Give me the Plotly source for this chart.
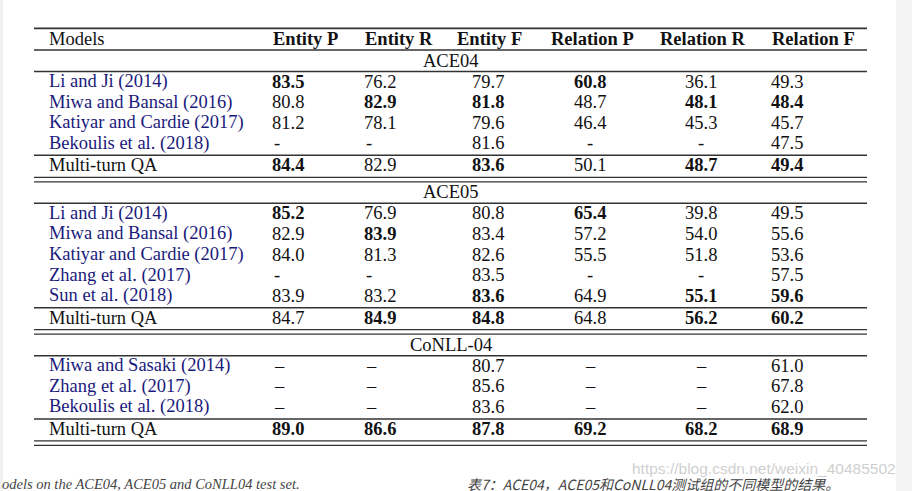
import plotly.graph_objects as go

# column headers
columns = ["Models", "Entity P", "Entity R", "Entity F", "Relation P", "Relation R", "Relation F"]

# ACE04
ace04_models = ["Li and Ji (2014)", "Miwa and Bansal (2016)", "Katiyar and Cardie (2017)",
                "Bekoulis et al. (2018)", "Multi-turn QA"]
ace04_entity_p = [83.5, 80.8, 81.2, None, 84.4]
ace04_entity_r = [76.2, 82.9, 78.1, None, 82.9]
ace04_entity_f = [79.7, 81.8, 79.6, 81.6, 83.6]
ace04_relation_p = [60.8, 48.7, 46.4, None, 50.1]
ace04_relation_r = [36.1, 48.1, 45.3, None, 48.7]
ace04_relation_f = [49.3, 48.4, 45.7, 47.5, 49.4]
ace04_bold = [(0, 1), (4, 1), (1, 2), (1, 3), (4, 3), (0, 4), (1, 5), (4, 5), (1, 6), (4, 6)]

# ACE05
ace05_models = ["Li and Ji (2014)", "Miwa and Bansal (2016)", "Katiyar and Cardie (2017)",
                "Zhang et al. (2017)", "Sun et al. (2018)", "Multi-turn QA"]
ace05_entity_p = [85.2, 82.9, 84.0, None, 83.9, 84.7]
ace05_entity_r = [76.9, 83.9, 81.3, None, 83.2, 84.9]
ace05_entity_f = [80.8, 83.4, 82.6, 83.5, 83.6, 84.8]
ace05_relation_p = [65.4, 57.2, 55.5, None, 64.9, 64.8]
ace05_relation_r = [39.8, 54.0, 51.8, None, 55.1, 56.2]
ace05_relation_f = [49.5, 55.6, 53.6, 57.5, 59.6, 60.2]
ace05_bold = [(0, 1), (1, 2), (5, 2), (4, 3), (5, 3), (0, 4), (4, 5), (5, 5), (4, 6), (5, 6)]

# CoNLL-04
conll_models = ["Miwa and Sasaki (2014)", "Zhang et al. (2017)", "Bekoulis et al. (2018)", "Multi-turn QA"]
conll_entity_p = [None, None, None, 89.0]
conll_entity_r = [None, None, None, 86.6]
conll_entity_f = [80.7, 85.6, 83.6, 87.8]
conll_relation_p = [None, None, None, 69.2]
conll_relation_r = [None, None, None, 68.2]
conll_relation_f = [61.0, 67.8, 62.0, 68.9]
conll_bold = [(3, 1), (3, 2), (3, 3), (3, 4), (3, 5), (3, 6)]

sections = [
    ("ACE04", "-", ace04_models, [ace04_entity_p, ace04_entity_r, ace04_entity_f,
                                  ace04_relation_p, ace04_relation_r, ace04_relation_f], ace04_bold),
    ("ACE05", "-", ace05_models, [ace05_entity_p, ace05_entity_r, ace05_entity_f,
                                  ace05_relation_p, ace05_relation_r, ace05_relation_f], ace05_bold),
    ("CoNLL-04", "\u2013", conll_models, [conll_entity_p, conll_entity_r, conll_entity_f,
                                          conll_relation_p, conll_relation_r, conll_relation_f], conll_bold),
]

caption_en = "odels on the ACE04, ACE05 and CoNLL04 test set."
caption_zh = "表7：ACE04，ACE05和CoNLL04测试组的不同模型的结果。"
watermark = "https://blog.csdn.net/weixin_40485502"

# layout (pixel space)
W, H = 912, 491
X0, X1 = 34, 867
col_x = [47, 270, 362, 506, 590, 701, 769]
col_anchor = ["left", "left", "left", "right", "center", "center", "left"]
header_x = [47, 271, 363, 455, 549, 658, 770]
PITCH = 20.6
SERIF = "Liberation Serif"
FS = 18.5
BLUE = "#1a1a7c"
INK = "#111111"
LINE = "#333333"

ann = []
shapes = []


def hline(y, w=1.5):
    shapes.append(dict(type="line", xref="x", yref="y", x0=X0, x1=X1, y0=y, y1=y,
                       line=dict(color=LINE, width=w)))


def txt(x, y, s, anchor="left", color=INK, size=FS, family=SERIF):
    ann.append(dict(x=x, y=y, xref="x", yref="y", text=s, showarrow=False,
                    xanchor=anchor, yanchor="middle",
                    font=dict(family=family, size=size, color=color)))


# header
hline(28.3, 1.8)
header_y = 38.5
for i, c in enumerate(columns):
    s = c if i == 0 else f"<b>{c}</b>"
    txt(header_x[i], header_y, s)
prev = 50
hline(prev)

for name, dash, models, cols, bold in sections:
    label_y = prev + 10.5
    txt(450.5, label_y, name, anchor="center")
    hline(label_y + 11)
    y0 = label_y + 21
    n = len(models)
    ys = [y0 + PITCH * r for r in range(n - 1)]
    sep = ys[-1] + 12
    hline(sep)
    ys.append(sep + 10)
    for r, m in enumerate(models):
        colr = INK if r == n - 1 else BLUE
        txt(col_x[0], ys[r], m, color=colr)
        for c, vals in enumerate(cols, start=1):
            v = vals[r]
            if v is None:
                if col_anchor[c] == "left":
                    txt(col_x[c] + 2, ys[r], dash)
                else:
                    txt(col_x[c], ys[r], dash, anchor="center")
                continue
            s = f"{v:.1f}"
            if (r, c) in bold:
                s = f"<b>{s}</b>"
            txt(col_x[c], ys[r], s, anchor=col_anchor[c])
    d1 = ys[-1] + 12
    hline(d1, 1.3)
    hline(d1 + 4.5, 1.3)
    prev = d1 + 4.5

# side strips of the page
shapes.append(dict(type="rect", xref="x", yref="y", x0=0, x1=3, y0=0, y1=H,
                   fillcolor="#f1f1f1", line=dict(width=0), layer="below"))
shapes.append(dict(type="rect", xref="x", yref="y", x0=896, x1=W, y0=0, y1=H,
                   fillcolor="#f3f3f3", line=dict(width=0), layer="below"))

# captions and watermark
txt(630, 468, watermark, color="rgba(190,190,190,0.75)", size=15.5, family="Liberation Sans")
txt(0, 484, f"<i>{caption_en}</i>", color="#444444", size=14.5)
txt(465, 484, f"<i>{caption_zh}</i>", color="#444444", size=14, family="Noto Sans CJK SC")

fig = go.Figure()
fig.update_layout(
    width=W, height=H,
    margin=dict(l=0, r=0, t=0, b=0),
    paper_bgcolor="white", plot_bgcolor="white",
    xaxis=dict(range=[0, W], visible=False, fixedrange=True),
    yaxis=dict(range=[H, 0], visible=False, fixedrange=True),
    annotations=ann, shapes=shapes, showlegend=False,
)

fig.write_html("out.html", config={"displayModeBar": False},
               post_script="document.body.style.margin='0px';document.body.style.overflow='hidden';")
